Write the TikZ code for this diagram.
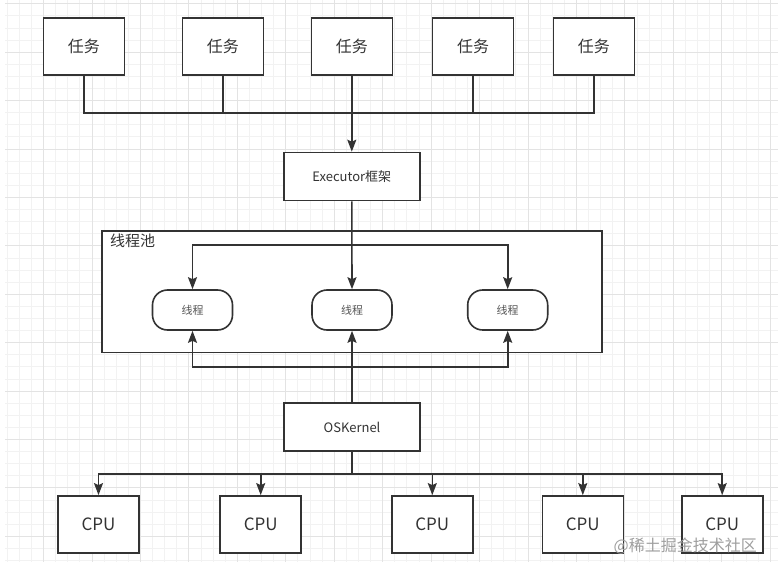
\documentclass[tikz,border=0pt]{standalone}
\usepackage{fontspec}
\setmainfont{Noto Sans CJK SC}
\usepackage{xcolor}
\usetikzlibrary{arrows.meta}

\definecolor{linegray}{HTML}{333333}
\definecolor{textgray}{HTML}{333333}
\definecolor{threadtext}{HTML}{555555}
\definecolor{minorgrid}{HTML}{F2F2F2}
\definecolor{majorgrid}{HTML}{E3E3E3}

\begin{document}
\begin{tikzpicture}[x=1pt,y=-1pt,
        box/.style={draw=linegray, line width=1.6pt, fill=white, text=textgray, inner sep=0pt},
        taskbox/.style={box, minimum width=81pt, minimum height=57pt, font=\fontsize{16}{19}\selectfont},
        cpubox/.style={box, minimum width=81pt, minimum height=57pt, font=\fontsize{17}{20}\selectfont},
        layerbox/.style={box, minimum width=136pt, minimum height=48pt, font=\fontsize{13}{16}\selectfont},
        threadbox/.style={box, rounded corners=15pt, minimum width=80pt, minimum height=40pt,
            text=threadtext, font=\fontsize{11}{13}\selectfont},
        link/.style={draw=linegray, line width=1.6pt},
        flow/.style={link, -{Stealth[length=12pt, width=9pt, inset=2pt]}}]
        \useasboundingbox (0,0) rectangle (778,572);

        % grid
        \foreach \i in {0,...,63}
            \draw[minorgrid, line width=1pt] ({7.3+12.11*\i},0) -- ({7.3+12.11*\i},562);
        \foreach \j in {0,...,46}
            \draw[minorgrid, line width=1pt] (5,{3.9+12.1*\j}) -- (778,{3.9+12.1*\j});
        \foreach \i in {3,7,...,63}
            \draw[majorgrid, line width=1pt] ({7.3+12.11*\i},0) -- ({7.3+12.11*\i},562);
        \foreach \j in {0,4,...,44}
            \draw[majorgrid, line width=1pt] (5,{3.9+12.1*\j}) -- (778,{3.9+12.1*\j});

        % tasks
        \foreach \x [count=\n] in {83.8,222.8,351.8,473,593.8}
            \node (t\n) [taskbox] at (\x,46.7) {任务};

        \node (exec) [layerbox] at (351.8,176.5) {Executor框架};

        % thread pool
        \node (pool) [box, minimum width=500pt, minimum height=121.5pt] at (352,291.7) {};
        \node (poollabel) [anchor=west, inner sep=0pt, text=textgray, font=\fontsize{15}{18}\selectfont]
            at (110,241) {线程池};
        \foreach \x [count=\n] in {192.5,352,507.7}
            \node (th\n) [threadbox] at (\x,310) {线程};

        \node (kernel) [layerbox] at (352,427) {OSKernel};

        % cpus
        \foreach \x [count=\n] in {98.5,260.7,432.3,582.8,722.2}
            \node (cpu\n) [cpubox] at (\x,524.4) {CPU};

        \node (mark) [anchor=east, inner sep=0pt, text=black!38, font=\fontsize{16}{19}\selectfont]
            at (757,546) {@稀土掘金技术社区};

        \coordinate (taskbus) at (351.8,113.3);
        \coordinate (splittop) at (352,245);
        \coordinate (splitbottom) at (352,366.7);
        \coordinate (cpubus) at (352,474);

        \draw[link] (t1.south) |- (taskbus) -| (t5.south);
        \foreach \n in {2,4}
            \draw[link] (t\n.south) -- (t\n.south |- taskbus);
        \draw[flow] (t3.south) -- (exec.north);

        \draw[flow] (exec.south) -- (th2.north);
        \draw[flow] (splittop) -| (th1.north);
        \draw[flow] (splittop) -| (th3.north);

        \draw[flow] (kernel.north) -- (th2.south);
        \draw[flow] (splitbottom) -| (th1.south);
        \draw[flow] (splitbottom) -| (th3.south);

        \draw[link] (kernel.south) -- (cpubus);
        \foreach \n in {1,...,5}
            \draw[flow] (cpubus) -| (cpu\n.north);
    \end{tikzpicture}
\end{document}
